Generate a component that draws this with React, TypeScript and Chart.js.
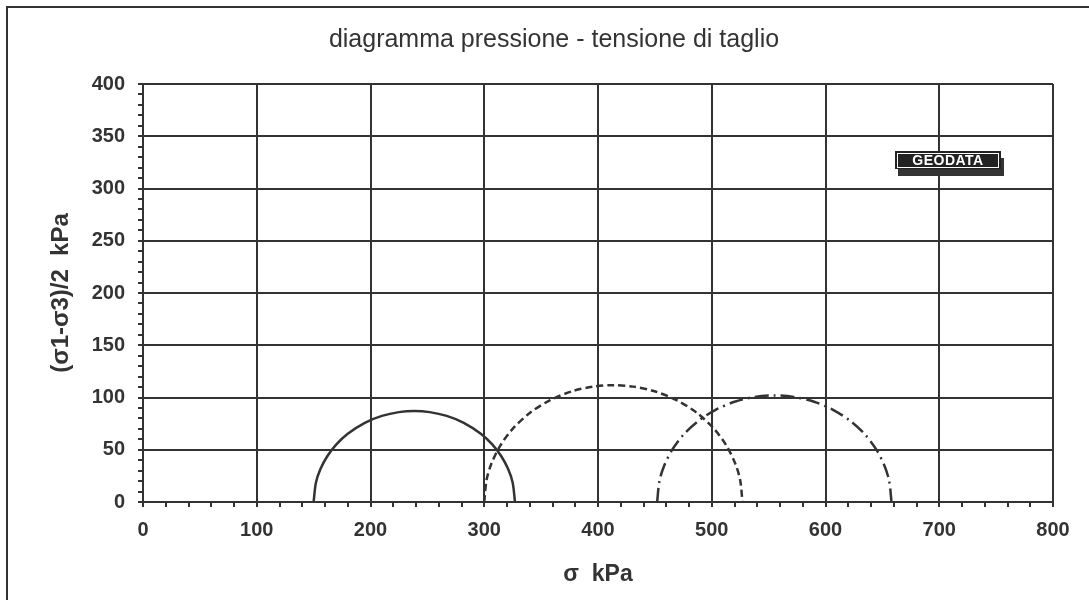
import React, { useEffect, useRef } from "react";
import { Chart, registerables } from "chart.js";

Chart.register(...registerables);

const TITLE = "diagramma pressione - tensione di taglio";
const X_TITLE = "σ  kPa";
const Y_TITLE = "(σ1-σ3)/2  kPa";
const LOGO = "GEODATA";

const X_MIN = 0;
const X_MAX = 800;
const X_STEP = 20;
const X_LABEL_EVERY = 100;
const Y_MIN = 0;
const Y_MAX = 400;
const Y_STEP = 10;
const Y_LABEL_EVERY = 50;

// Mohr circle 1 (solid)
const c1Sigma = [150, 152, 156, 162, 170, 180, 195, 210, 225, 238.5, 252, 267, 282, 297, 307, 315, 321, 325, 327];
const c1Tau = [0, 18.5, 31.5, 43.8, 55.1, 65.3, 75.8, 82.4, 86.0, 87.0, 86.0, 82.4, 75.8, 65.3, 55.1, 43.8, 31.5, 18.5, 0];

// Mohr circle 2 (dashed)
const c2Sigma = [300, 302, 306, 314, 325, 340, 358, 378, 396, 413.5, 431, 449, 469, 487, 502, 513, 521, 525, 527];
const c2Tau = [0, 20.9, 35.9, 53.8, 70.0, 85.2, 97.5, 106.2, 110.4, 111.8, 110.4, 106.2, 97.5, 85.2, 70.0, 53.8, 35.9, 20.9, 0];

// Mohr circle 3 (dash-dot)
const c3Sigma = [452, 454, 458, 465, 475, 488, 503, 520, 538, 555, 572, 590, 607, 622, 635, 645, 652, 656, 658];
const c3Tau = [0, 20.0, 34.3, 49.6, 64.3, 77.4, 88.0, 95.9, 100.6, 102, 100.6, 95.9, 88.0, 77.4, 64.3, 49.6, 34.3, 20.0, 0];

const INK = "#333333";
const FONT = "'Liberation Sans', Arial, Helvetica, sans-serif";

function pts(xs: number[], ys: number[]) {
  return xs.map((x, i) => ({ x, y: ys[i] }));
}

export default function App() {
  const canvasRef = useRef<HTMLCanvasElement | null>(null);

  useEffect(() => {
    const canvas = canvasRef.current;
    if (!canvas) return;
    Chart.defaults.font.family = FONT;
    const lineDs = (label: string, xs: number[], ys: number[], dash: number[]) => ({
      label,
      data: pts(xs, ys),
      showLine: true,
      borderColor: INK,
      backgroundColor: INK,
      borderWidth: 2.5,
      borderDash: dash,
      pointRadius: 0,
      tension: 0.3,
      fill: false,
    });
    const chart = new Chart(canvas, {
      type: "scatter",
      data: {
        datasets: [
          lineDs("c1", c1Sigma, c1Tau, []),
          lineDs("c2", c2Sigma, c2Tau, [7, 4]),
          lineDs("c3", c3Sigma, c3Tau, [14, 5, 2, 5]),
        ],
      },
      options: {
        responsive: false,
        animation: false,
        layout: { padding: { left: 55, right: 36, top: 0, bottom: 0 } },
        plugins: {
          legend: { display: false },
          tooltip: { enabled: false },
          title: {
            display: true,
            text: TITLE,
            color: INK,
            font: { family: FONT, size: 25, weight: "normal", lineHeight: 1.2 },
            padding: { top: 25, bottom: 29 },
          },
        },
        scales: {
          x: {
            type: "linear",
            min: X_MIN,
            max: X_MAX,
            afterFit: (s: any) => {
              s.height = 98;
            },
            ticks: {
              stepSize: X_STEP,
              autoSkip: false,
              maxRotation: 0,
              color: INK,
              padding: 11,
              font: { family: FONT, size: 20, weight: "bold" },
              callback: (v: any) => (Number(v) % X_LABEL_EVERY === 0 ? String(v) : ""),
            },
            grid: {
              color: (ctx: any) =>
                ctx.tick && ctx.tick.value % X_LABEL_EVERY === 0 ? INK : "rgba(0,0,0,0)",
              lineWidth: 2,
              tickColor: INK,
              tickLength: 5,
              tickWidth: 2,
            },
            border: { display: true, color: INK, width: 2 },
            title: {
              display: true,
              text: X_TITLE,
              color: INK,
              font: { family: FONT, size: 23, weight: "bold", lineHeight: 1.2 },
              padding: { top: 0, bottom: 11.2 },
            },
          },
          y: {
            type: "linear",
            min: Y_MIN,
            max: Y_MAX,
            afterFit: (s: any) => {
              s.width = 88;
            },
            ticks: {
              stepSize: Y_STEP,
              autoSkip: false,
              color: INK,
              padding: 13,
              font: { family: FONT, size: 20, weight: "bold" },
              callback: (v: any) => (Number(v) % Y_LABEL_EVERY === 0 ? String(v) : ""),
            },
            grid: {
              color: (ctx: any) =>
                ctx.tick && ctx.tick.value % Y_LABEL_EVERY === 0 ? INK : "rgba(0,0,0,0)",
              lineWidth: 2,
              tickColor: INK,
              tickLength: 5,
              tickWidth: 2,
            },
            border: { display: true, color: INK, width: 2 },
            title: {
              display: true,
              text: Y_TITLE,
              color: INK,
              font: { family: FONT, size: 24, weight: "bold", lineHeight: 0.5 },
              padding: { top: 0, bottom: 0 },
            },
          },
        },
      },
    } as any);
    return () => chart.destroy();
  }, []);

  return (
    <div
      style={{
        position: "fixed",
        left: 0,
        top: 0,
        width: 1089,
        height: 600,
        background: "#ffffff",
        overflow: "hidden",
      }}
    >
      <canvas ref={canvasRef} width={1089} height={600} style={{ display: "block" }} />
      <div style={{ position: "absolute", left: 6, top: 6, width: 2, height: 600, background: INK }} />
      <div style={{ position: "absolute", left: 6, top: 6, width: 1089, height: 2, background: INK }} />
      <div
        style={{
          position: "absolute",
          left: 895,
          top: 151,
          width: 106,
          height: 18,
          background: "#222",
          boxShadow: "3px 7px 0 #333",
          display: "flex",
          alignItems: "center",
          justifyContent: "center",
        }}
      >
        <div
          style={{
            border: "1px solid #fff",
            width: 100,
            height: 13,
            display: "flex",
            alignItems: "center",
            justifyContent: "center",
            color: "#fff",
            fontFamily: FONT,
            fontWeight: "bold",
            fontSize: 14,
            letterSpacing: 0.5,
            lineHeight: "13px",
          }}
        >
          {LOGO}
        </div>
      </div>
    </div>
  );
}
